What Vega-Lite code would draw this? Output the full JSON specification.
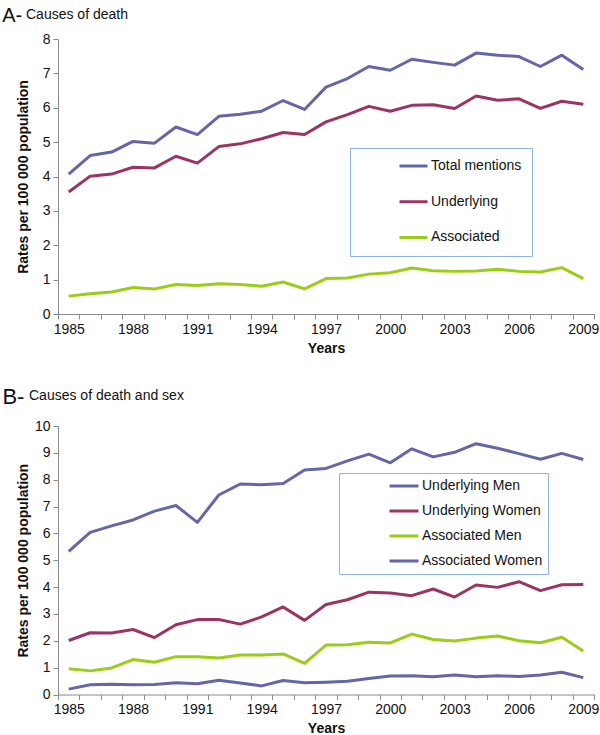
{
  "$schema": "https://vega.github.io/schema/vega-lite/v6.json",
  "padding": {"left": 2, "top": 5, "right": 0, "bottom": 0},
  "config": {
    "font": "Liberation Sans",
    "view": {"stroke": null},
    "axis": {"grid": false, "domainColor": "#8a8a8a", "tickColor": "#8a8a8a", "labelColor": "#111111", "labelFontSize": 14, "labelFont": "Liberation Sans", "titleFont": "Liberation Sans", "titleFontSize": 14, "titleFontWeight": "bold", "titleColor": "#111111", "tickSize": 5, "labelPadding": 3},
    "title": {"font": "Liberation Sans", "fontWeight": "normal", "color": "#111111", "anchor": "start"},
    "legend": {"labelFont": "Liberation Sans", "labelFontSize": 14, "labelColor": "#111111"}
  },
  "datasets": {
    "a": [
      {"year":1985,"series":"Total mentions","rate":4.07},{"year":1986,"series":"Total mentions","rate":4.61},{"year":1987,"series":"Total mentions","rate":4.71},{"year":1988,"series":"Total mentions","rate":5.02},{"year":1989,"series":"Total mentions","rate":4.97},{"year":1990,"series":"Total mentions","rate":5.44},{"year":1991,"series":"Total mentions","rate":5.22},{"year":1992,"series":"Total mentions","rate":5.75},{"year":1993,"series":"Total mentions","rate":5.81},{"year":1994,"series":"Total mentions","rate":5.90},{"year":1995,"series":"Total mentions","rate":6.21},{"year":1996,"series":"Total mentions","rate":5.95},{"year":1997,"series":"Total mentions","rate":6.60},{"year":1998,"series":"Total mentions","rate":6.85},{"year":1999,"series":"Total mentions","rate":7.20},{"year":2000,"series":"Total mentions","rate":7.09},{"year":2001,"series":"Total mentions","rate":7.41},{"year":2002,"series":"Total mentions","rate":7.32},{"year":2003,"series":"Total mentions","rate":7.24},{"year":2004,"series":"Total mentions","rate":7.59},{"year":2005,"series":"Total mentions","rate":7.53},{"year":2006,"series":"Total mentions","rate":7.49},{"year":2007,"series":"Total mentions","rate":7.20},{"year":2008,"series":"Total mentions","rate":7.53},{"year":2009,"series":"Total mentions","rate":7.11},
      {"year":1985,"series":"Underlying","rate":3.55},{"year":1986,"series":"Underlying","rate":4.01},{"year":1987,"series":"Underlying","rate":4.07},{"year":1988,"series":"Underlying","rate":4.27},{"year":1989,"series":"Underlying","rate":4.25},{"year":1990,"series":"Underlying","rate":4.59},{"year":1991,"series":"Underlying","rate":4.39},{"year":1992,"series":"Underlying","rate":4.87},{"year":1993,"series":"Underlying","rate":4.95},{"year":1994,"series":"Underlying","rate":5.10},{"year":1995,"series":"Underlying","rate":5.28},{"year":1996,"series":"Underlying","rate":5.22},{"year":1997,"series":"Underlying","rate":5.59},{"year":1998,"series":"Underlying","rate":5.80},{"year":1999,"series":"Underlying","rate":6.04},{"year":2000,"series":"Underlying","rate":5.90},{"year":2001,"series":"Underlying","rate":6.07},{"year":2002,"series":"Underlying","rate":6.09},{"year":2003,"series":"Underlying","rate":5.98},{"year":2004,"series":"Underlying","rate":6.34},{"year":2005,"series":"Underlying","rate":6.22},{"year":2006,"series":"Underlying","rate":6.26},{"year":2007,"series":"Underlying","rate":5.98},{"year":2008,"series":"Underlying","rate":6.19},{"year":2009,"series":"Underlying","rate":6.10},
      {"year":1985,"series":"Associated","rate":0.52},{"year":1986,"series":"Associated","rate":0.59},{"year":1987,"series":"Associated","rate":0.64},{"year":1988,"series":"Associated","rate":0.77},{"year":1989,"series":"Associated","rate":0.73},{"year":1990,"series":"Associated","rate":0.86},{"year":1991,"series":"Associated","rate":0.83},{"year":1992,"series":"Associated","rate":0.88},{"year":1993,"series":"Associated","rate":0.86},{"year":1994,"series":"Associated","rate":0.81},{"year":1995,"series":"Associated","rate":0.93},{"year":1996,"series":"Associated","rate":0.73},{"year":1997,"series":"Associated","rate":1.03},{"year":1998,"series":"Associated","rate":1.05},{"year":1999,"series":"Associated","rate":1.16},{"year":2000,"series":"Associated","rate":1.20},{"year":2001,"series":"Associated","rate":1.34},{"year":2002,"series":"Associated","rate":1.26},{"year":2003,"series":"Associated","rate":1.24},{"year":2004,"series":"Associated","rate":1.25},{"year":2005,"series":"Associated","rate":1.30},{"year":2006,"series":"Associated","rate":1.24},{"year":2007,"series":"Associated","rate":1.22},{"year":2008,"series":"Associated","rate":1.35},{"year":2009,"series":"Associated","rate":1.03}
    ],
    "b": [
      {"year":1985,"series":"Underlying Men","rate":5.33},{"year":1986,"series":"Underlying Men","rate":6.04},{"year":1987,"series":"Underlying Men","rate":6.28},{"year":1988,"series":"Underlying Men","rate":6.50},{"year":1989,"series":"Underlying Men","rate":6.83},{"year":1990,"series":"Underlying Men","rate":7.04},{"year":1991,"series":"Underlying Men","rate":6.41},{"year":1992,"series":"Underlying Men","rate":7.43},{"year":1993,"series":"Underlying Men","rate":7.84},{"year":1994,"series":"Underlying Men","rate":7.81},{"year":1995,"series":"Underlying Men","rate":7.86},{"year":1996,"series":"Underlying Men","rate":8.36},{"year":1997,"series":"Underlying Men","rate":8.42},{"year":1998,"series":"Underlying Men","rate":8.70},{"year":1999,"series":"Underlying Men","rate":8.95},{"year":2000,"series":"Underlying Men","rate":8.63},{"year":2001,"series":"Underlying Men","rate":9.15},{"year":2002,"series":"Underlying Men","rate":8.85},{"year":2003,"series":"Underlying Men","rate":9.02},{"year":2004,"series":"Underlying Men","rate":9.34},{"year":2005,"series":"Underlying Men","rate":9.17},{"year":2006,"series":"Underlying Men","rate":8.97},{"year":2007,"series":"Underlying Men","rate":8.76},{"year":2008,"series":"Underlying Men","rate":8.98},{"year":2009,"series":"Underlying Men","rate":8.75},
      {"year":1985,"series":"Underlying Women","rate":2.01},{"year":1986,"series":"Underlying Women","rate":2.30},{"year":1987,"series":"Underlying Women","rate":2.29},{"year":1988,"series":"Underlying Women","rate":2.42},{"year":1989,"series":"Underlying Women","rate":2.12},{"year":1990,"series":"Underlying Women","rate":2.60},{"year":1991,"series":"Underlying Women","rate":2.79},{"year":1992,"series":"Underlying Women","rate":2.79},{"year":1993,"series":"Underlying Women","rate":2.62},{"year":1994,"series":"Underlying Women","rate":2.89},{"year":1995,"series":"Underlying Women","rate":3.26},{"year":1996,"series":"Underlying Women","rate":2.76},{"year":1997,"series":"Underlying Women","rate":3.35},{"year":1998,"series":"Underlying Women","rate":3.53},{"year":1999,"series":"Underlying Women","rate":3.81},{"year":2000,"series":"Underlying Women","rate":3.78},{"year":2001,"series":"Underlying Women","rate":3.68},{"year":2002,"series":"Underlying Women","rate":3.93},{"year":2003,"series":"Underlying Women","rate":3.63},{"year":2004,"series":"Underlying Women","rate":4.08},{"year":2005,"series":"Underlying Women","rate":3.99},{"year":2006,"series":"Underlying Women","rate":4.20},{"year":2007,"series":"Underlying Women","rate":3.87},{"year":2008,"series":"Underlying Women","rate":4.09},{"year":2009,"series":"Underlying Women","rate":4.10},
      {"year":1985,"series":"Associated Men","rate":0.96},{"year":1986,"series":"Associated Men","rate":0.88},{"year":1987,"series":"Associated Men","rate":0.99},{"year":1988,"series":"Associated Men","rate":1.30},{"year":1989,"series":"Associated Men","rate":1.20},{"year":1990,"series":"Associated Men","rate":1.41},{"year":1991,"series":"Associated Men","rate":1.41},{"year":1992,"series":"Associated Men","rate":1.36},{"year":1993,"series":"Associated Men","rate":1.47},{"year":1994,"series":"Associated Men","rate":1.47},{"year":1995,"series":"Associated Men","rate":1.51},{"year":1996,"series":"Associated Men","rate":1.16},{"year":1997,"series":"Associated Men","rate":1.84},{"year":1998,"series":"Associated Men","rate":1.85},{"year":1999,"series":"Associated Men","rate":1.95},{"year":2000,"series":"Associated Men","rate":1.92},{"year":2001,"series":"Associated Men","rate":2.25},{"year":2002,"series":"Associated Men","rate":2.05},{"year":2003,"series":"Associated Men","rate":1.99},{"year":2004,"series":"Associated Men","rate":2.10},{"year":2005,"series":"Associated Men","rate":2.18},{"year":2006,"series":"Associated Men","rate":2.00},{"year":2007,"series":"Associated Men","rate":1.93},{"year":2008,"series":"Associated Men","rate":2.13},{"year":2009,"series":"Associated Men","rate":1.62},
      {"year":1985,"series":"Associated Women","rate":0.20},{"year":1986,"series":"Associated Women","rate":0.36},{"year":1987,"series":"Associated Women","rate":0.38},{"year":1988,"series":"Associated Women","rate":0.36},{"year":1989,"series":"Associated Women","rate":0.37},{"year":1990,"series":"Associated Women","rate":0.44},{"year":1991,"series":"Associated Women","rate":0.40},{"year":1992,"series":"Associated Women","rate":0.53},{"year":1993,"series":"Associated Women","rate":0.43},{"year":1994,"series":"Associated Women","rate":0.32},{"year":1995,"series":"Associated Women","rate":0.52},{"year":1996,"series":"Associated Women","rate":0.44},{"year":1997,"series":"Associated Women","rate":0.46},{"year":1998,"series":"Associated Women","rate":0.49},{"year":1999,"series":"Associated Women","rate":0.60},{"year":2000,"series":"Associated Women","rate":0.69},{"year":2001,"series":"Associated Women","rate":0.70},{"year":2002,"series":"Associated Women","rate":0.66},{"year":2003,"series":"Associated Women","rate":0.73},{"year":2004,"series":"Associated Women","rate":0.66},{"year":2005,"series":"Associated Women","rate":0.70},{"year":2006,"series":"Associated Women","rate":0.67},{"year":2007,"series":"Associated Women","rate":0.73},{"year":2008,"series":"Associated Women","rate":0.83},{"year":2009,"series":"Associated Women","rate":0.63}
    ]
  },
  "spacing": 30,
  "resolve": {"scale": {"color": "independent", "y": "independent", "x": "independent"}, "legend": {"color": "independent"}},
  "vconcat": [
    {
      "title": {"text": "A-", "fontSize": 20, "frame": "bounds", "dx": -14, "offset": -17.7},
      "vconcat": [
        {
          "title": {"text": "Causes of death", "fontSize": 14, "frame": "group", "dx": -32, "offset": 9.8},
          "width": 536,
          "height": 275,
          "data": {"name": "a"},
          "mark": {"type": "line", "strokeWidth": 3, "strokeJoin": "round"},
          "encoding": {
            "x": {"field": "year", "type": "ordinal", "scale": {"type": "band", "paddingInner": 0, "paddingOuter": 0},
                  "axis": {"title": "Years", "labelAngle": 0, "tickBand": "extent", "labelOverlap": false, "labelExpr": "datum.value % 3 == 2 ? datum.label : ''", "titlePadding": 5}},
            "y": {"field": "rate", "type": "quantitative", "scale": {"domain": [0, 8]},
                  "axis": {"title": "Rates  per 100 000 population", "values": [0,1,2,3,4,5,6,7,8], "titlePadding": 12}},
            "color": {"field": "series", "type": "nominal",
                      "scale": {"domain": ["Total mentions", "Underlying", "Associated"], "range": ["#6466a5", "#9b3463", "#9bcc16"]},
                      "legend": {"orient": "none", "legendX": 292, "legendY": 109, "title": null, "symbolType": "stroke", "symbolSize": 784, "symbolStrokeWidth": 3, "labelOffset": 2, "padding": 10, "symbolOffset": 38, "rowPadding": 19.7, "clipHeight": 16, "strokeColor": "#8eb4e3", "fillColor": "#ffffff",
                                 "labelExpr": "datum.label + '\u00a0\u00a0\u00a0\u00a0\u00a0\u00a0\u00a0\u00a0'"}}
          }
        }
      ]
    },
    {
      "title": {"text": "B-", "fontSize": 22, "frame": "bounds", "dx": -14, "offset": -19.7},
      "vconcat": [
        {
          "title": {"text": "Causes of death and sex", "fontSize": 14, "frame": "group", "dx": -29, "offset": 15.9},
          "width": 536,
          "height": 268.5,
          "data": {"name": "b"},
          "mark": {"type": "line", "strokeWidth": 3, "strokeJoin": "round"},
          "encoding": {
            "x": {"field": "year", "type": "ordinal", "scale": {"type": "band", "paddingInner": 0, "paddingOuter": 0},
                  "axis": {"title": "Years", "labelAngle": 0, "tickBand": "extent", "labelOverlap": false, "labelExpr": "datum.value % 3 == 2 ? datum.label : ''", "titlePadding": 5}},
            "y": {"field": "rate", "type": "quantitative", "scale": {"domain": [0, 10]},
                  "axis": {"title": "Rates per 100 000 population", "values": [0,1,2,3,4,5,6,7,8,9,10], "titlePadding": 4}},
            "color": {"field": "series", "type": "nominal",
                      "scale": {"domain": ["Underlying Men", "Underlying Women", "Associated Men", "Associated Women"], "range": ["#6466a5", "#9b3463", "#9bcc16", "#6466a5"]},
                      "legend": {"orient": "none", "legendX": 281, "legendY": 47, "title": null, "symbolType": "stroke", "symbolSize": 841, "symbolStrokeWidth": 3, "labelOffset": 2, "padding": 5, "symbolOffset": 44, "rowPadding": 9, "clipHeight": 16, "strokeColor": "#8eb4e3", "fillColor": "#ffffff",
                                 "labelExpr": "datum.label + '\u00a0\u00a0\u00a0\u00a0\u00a0\u00a0\u00a0\u00a0\u00a0'"}}
          }
        }
      ]
    }
  ]
}
